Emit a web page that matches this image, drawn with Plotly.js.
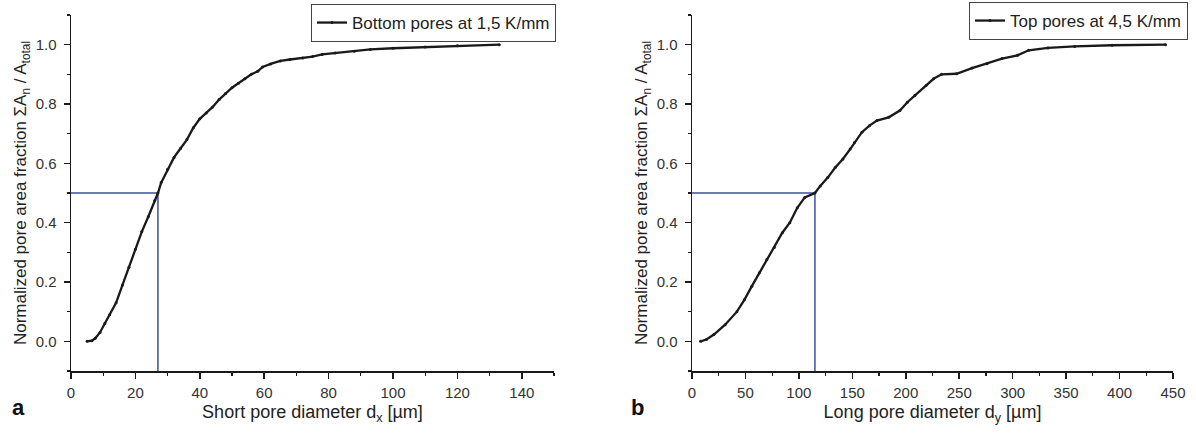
<!DOCTYPE html>
<html>
<head>
<meta charset="utf-8">
<script src="https://cdn.plot.ly/plotly-3.0.1.min.js"></script>
<style>
html,body{margin:0;padding:0;background:#fff;}
#chart{width:1196px;height:434px;}
</style>
</head>
<body>
<div id="chart"></div>
<script>
// Panel a: short pore diameter (µm) vs cumulative normalized pore area fraction
const shortDiameter = [5, 6.5, 7.5, 9, 10.5, 12, 14, 16, 18, 20, 22, 24, 26, 27, 28, 30, 32, 34, 36, 38, 40, 42, 44, 46, 48, 50, 52, 54, 56, 58, 59.5, 62, 65, 68, 72, 75, 78, 82, 88, 93, 100, 110, 120, 133];
const shortFraction = [0, 0.002, 0.01, 0.03, 0.06, 0.09, 0.13, 0.19, 0.25, 0.31, 0.37, 0.42, 0.475, 0.5, 0.535, 0.58, 0.62, 0.65, 0.68, 0.72, 0.75, 0.77, 0.79, 0.815, 0.835, 0.855, 0.87, 0.885, 0.9, 0.91, 0.925, 0.935, 0.945, 0.95, 0.955, 0.96, 0.967, 0.972, 0.978, 0.984, 0.988, 0.992, 0.996, 1.0];

// Panel b: long pore diameter (µm) vs cumulative normalized pore area fraction
const longDiameter = [8, 13.5, 20.5, 31, 42, 49, 56, 63, 70, 77, 84.5, 91.5, 98.5, 105.5, 115, 120, 127, 134, 141, 148, 152, 159, 166, 173, 184, 194.5, 201.5, 208.5, 219, 226, 233.5, 247.5, 262, 276, 290, 304.5, 315, 333, 358, 393, 443];
const longFraction = [0, 0.006, 0.023, 0.056, 0.10, 0.14, 0.186, 0.231, 0.276, 0.316, 0.366, 0.40, 0.45, 0.485, 0.50, 0.524, 0.552, 0.586, 0.614, 0.648, 0.67, 0.705, 0.727, 0.744, 0.755, 0.778, 0.806, 0.829, 0.862, 0.885, 0.90, 0.902, 0.921, 0.936, 0.953, 0.964, 0.981, 0.989, 0.994, 0.998, 1.0];

// Median guide lines (50 % of total area)
const guideShortX = [0, 27, 27];
const guideShortY = [0.5, 0.5, -0.1];
const guideLongX = [0, 115, 115];
const guideLongY = [0.5, 0.5, -0.1];

const seriesNames = ['Bottom pores at 1,5 K/mm', 'Top pores at 4,5 K/mm'];
const yTitle = 'Normalized pore area fraction ΣA<sub>n</sub> / A<sub>total</sub>';
const xTitles = ['Short pore diameter d<sub>x</sub> [µm]', 'Long pore diameter d<sub>y</sub> [µm]'];
const panelLabels = ['a', 'b'];

const W = 1196, H = 434;
const ink = '#1a1a1a';
const guideColor = '#3f4f9c';
const FONT = 'Liberation Sans, Arial, sans-serif';

const traces = [
  {x: guideShortX, y: guideShortY, xaxis: 'x', yaxis: 'y', mode: 'lines',
   line: {color: guideColor, width: 1.5}, showlegend: false, hoverinfo: 'skip', cliponaxis: false},
  {x: guideLongX, y: guideLongY, xaxis: 'x2', yaxis: 'y2', mode: 'lines',
   line: {color: guideColor, width: 1.5}, showlegend: false, hoverinfo: 'skip', cliponaxis: false},
  {x: shortDiameter, y: shortFraction, xaxis: 'x', yaxis: 'y', mode: 'lines+markers',
   name: seriesNames[0], legend: 'legend',
   line: {color: ink, width: 2.3}, marker: {color: ink, size: 3}},
  {x: longDiameter, y: longFraction, xaxis: 'x2', yaxis: 'y2', mode: 'lines+markers',
   name: seriesNames[1], legend: 'legend2',
   line: {color: ink, width: 2.3}, marker: {color: ink, size: 3}}
];

function xAxis(domain, range, dtick, minor, title, anchor) {
  return {
    domain: domain, range: range, anchor: anchor, automargin: false,
    showline: true, linecolor: ink, linewidth: 1.5, mirror: false,
    showgrid: false, zeroline: false,
    ticks: 'outside', ticklen: 6, tickwidth: 1.5, tickcolor: ink,
    tick0: 0, dtick: dtick, ticklabelstandoff: 1,
    minor: {dtick: minor, tick0: 0, ticks: 'outside', ticklen: 3, tickwidth: 1.2, tickcolor: ink, showgrid: false},
    tickfont: {family: FONT, size: 15, color: '#333'},
    title: {text: title, font: {family: FONT, size: 18, color: '#222'}, standoff: 6}
  };
}
function yAxis(domain, anchor) {
  return {
    domain: domain, range: [-0.1, 1.1], anchor: anchor, automargin: false,
    showline: true, linecolor: ink, linewidth: 1.5, mirror: false,
    showgrid: false, zeroline: false,
    ticks: 'outside', ticklen: 6, tickwidth: 1.5, tickcolor: ink,
    tick0: 0, dtick: 0.2, tickformat: '.1f', ticklabelstandoff: 4,
    minor: {dtick: 0.1, tick0: 0, ticks: 'outside', ticklen: 3, tickwidth: 1.2, tickcolor: ink, showgrid: false},
    tickfont: {family: FONT, size: 15, color: '#333'},
    title: {text: yTitle, font: {family: FONT, size: 17, color: '#222'}, standoff: 4}
  };
}

const yDom = [1 - 371 / H, 1 - 15 / H];

const layout = {
  width: W, height: H,
  margin: {l: 0, r: 0, t: 0, b: 0, pad: 0},
  paper_bgcolor: '#fff', plot_bgcolor: '#fff',
  font: {family: FONT, color: '#222'},
  xaxis: xAxis([71 / W, 554 / W], [0, 150], 20, 10, xTitles[0], 'y'),
  yaxis: yAxis(yDom, 'x'),
  xaxis2: xAxis([692 / W, 1173 / W], [0, 450], 50, 25, xTitles[1], 'y2'),
  yaxis2: yAxis(yDom, 'x2'),
  legend: {x: 556 / W, xanchor: 'right', y: 1 - 4 / H, yanchor: 'top',
    bgcolor: '#fff', bordercolor: '#444', borderwidth: 1,
    font: {family: FONT, size: 17, color: '#222'}, tracegroupgap: 0},
  legend2: {x: 1188 / W, xanchor: 'right', y: 1 - 2 / H, yanchor: 'top',
    bgcolor: '#fff', bordercolor: '#444', borderwidth: 1,
    font: {family: FONT, size: 17, color: '#222'}, tracegroupgap: 0},
  annotations: [
    {text: '<b>' + panelLabels[0] + '</b>', xref: 'paper', yref: 'paper', x: 10 / W, y: 1 - 407 / H,
     xanchor: 'left', yanchor: 'middle', showarrow: false, font: {family: FONT, size: 22, color: '#111'}},
    {text: '<b>' + panelLabels[1] + '</b>', xref: 'paper', yref: 'paper', x: 629 / W, y: 1 - 407 / H,
     xanchor: 'left', yanchor: 'middle', showarrow: false, font: {family: FONT, size: 22, color: '#111'}}
  ],
  showlegend: true
};

Plotly.newPlot('chart', traces, layout, {displayModeBar: false, staticPlot: true});
</script>
</body>
</html>
